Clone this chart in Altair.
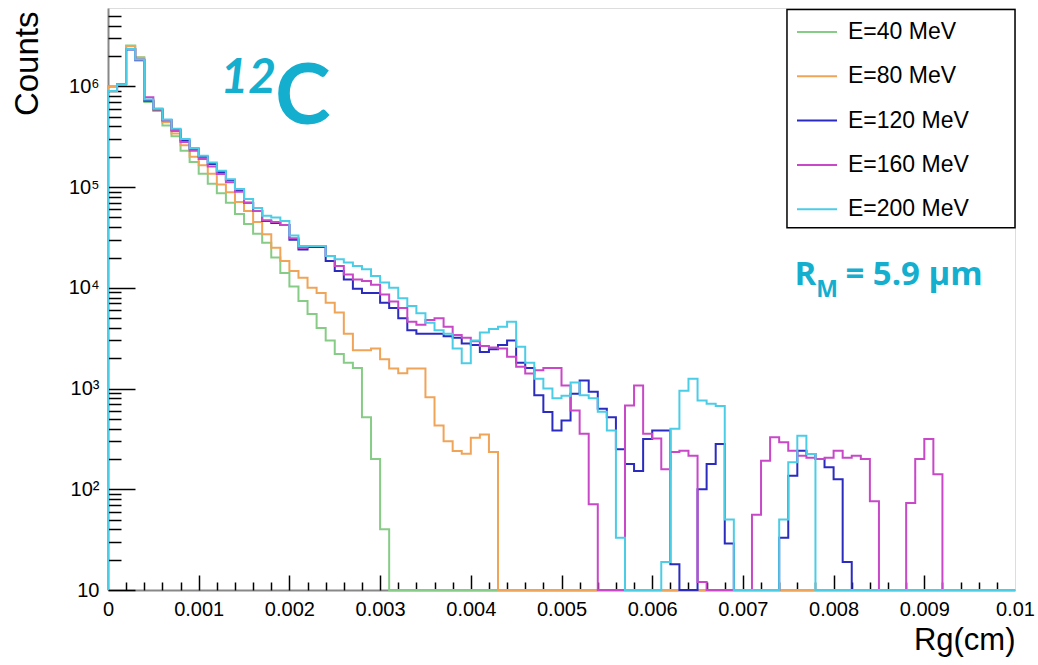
import altair as alt
import pandas as pd

# ---------------- data ----------------
BIN_WIDTH = 0.0001          # cm, 100 bins between 0 and 0.01
N_BINS = 100
Y_FLOOR = 10                # lowest value of the log axis (empty bins sit on it)

series_labels = ["E=40 MeV", "E=80 MeV", "E=120 MeV", "E=160 MeV", "E=200 MeV"]
series_colors = ["#86CC86", "#F0A458", "#2B2BC0", "#C848C8", "#4CCDE6"]

counts_40 = [
    1.0e6, 1.05e6, 2.55e6, 1.95e6, 7.0e5, 5.7e5, 4.1e5, 3.2e5, 2.3e5, 1.78e5,
    1.36e5, 1.08e5, 8.7e4, 7.0e4, 5.4e4, 4.3e4, 3.45e4, 2.8e4, 2.0e4, 1.4e4,
    1.03e4, 7.4e3, 5.5e3, 4.0e3, 3.0e3, 2.2e3, 1.8e3, 1.6e3, 520, 200,
    40, 0, 0, 0, 0, 0, 0, 0, 0, 0,
    0, 0, 0, 0, 0, 0, 0, 0, 0, 0,
    0, 0, 0, 0, 0, 0, 0, 0, 0, 0,
    0, 0, 0, 0, 0, 0, 0, 0, 0, 0,
    0, 0, 0, 0, 0, 0, 0, 0, 0, 0,
    0, 0, 0, 0, 0, 0, 0, 0, 0, 0,
    0, 0, 0, 0, 0, 0, 0, 0, 0, 0,
]
counts_80 = [
    1.0e6, 1.05e6, 2.5e6, 1.92e6, 7.2e5, 5.8e5, 4.4e5, 3.4e5, 2.6e5, 2.0e5,
    1.65e5, 1.36e5, 1.06e5, 8.9e4, 7.1e4, 5.8e4, 4.5e4, 3.4e4, 2.5e4, 1.85e4,
    1.47e4, 1.26e4, 1.0e4, 8.9e3, 7.1e3, 5.7e3, 3.5e3, 2.4e3, 2.4e3, 2.5e3,
    1.95e3, 1.58e3, 1.42e3, 1.58e3, 1.58e3, 820, 430, 300, 240, 225,
    325, 350, 235, 0, 0, 0, 0, 0, 0, 0,
    0, 0, 0, 0, 0, 0, 0, 0, 0, 0,
    0, 0, 0, 0, 0, 0, 0, 0, 0, 0,
    0, 0, 0, 0, 0, 0, 0, 0, 0, 0,
    0, 0, 0, 0, 0, 0, 0, 0, 0, 0,
    0, 0, 0, 0, 0, 0, 0, 0, 0, 0,
]
counts_120 = [
    9.0e5, 1.05e6, 2.33e6, 1.82e6, 7.2e5, 5.9e5, 4.6e5, 3.7e5, 2.9e5, 2.4e5,
    2.0e5, 1.7e5, 1.41e5, 1.17e5, 9.2e4, 7.0e4, 5.8e4, 4.6e4, 4.4e4, 4.2e4,
    3.0e4, 2.4e4, 2.55e4, 2.55e4, 1.85e4, 1.47e4, 1.21e4, 9.8e3, 8.9e3, 8.9e3,
    7.1e3, 6.3e3, 5.0e3, 3.8e3, 3.5e3, 3.5e3, 3.5e3, 3.3e3, 3.2e3, 2.8e3,
    2.7e3, 2.3e3, 2.45e3, 2.7e3, 3.0e3, 1.8e3, 1.6e3, 860, 585, 383,
    482, 890, 1.2e3, 930, 630, 520, 250, 178, 152, 316,
    383, 383, 18, 0, 0, 100, 178, 282, 29, 0,
    0, 0, 0, 0, 33, 136, 241, 224, 200, 165,
    126, 19, 0, 0, 0, 0, 0, 0, 0, 0,
    0, 0, 0, 0, 0, 0, 0, 0, 0, 0,
]
counts_160 = [
    9.0e5, 1.05e6, 2.35e6, 1.85e6, 7.8e5, 6.0e5, 4.6e5, 3.6e5, 2.8e5, 2.3e5,
    1.9e5, 1.6e5, 1.35e5, 1.12e5, 9.0e4, 7.0e4, 5.8e4, 4.7e4, 4.5e4, 4.2e4,
    3.1e4, 2.5e4, 2.6e4, 2.6e4, 2.07e4, 1.65e4, 1.36e4, 1.21e4, 1.17e4, 1.07e4,
    8.6e3, 7.3e3, 6.3e3, 4.6e3, 4.3e3, 4.8e3, 5.0e3, 4.1e3, 3.4e3, 3.2e3,
    2.95e3, 2.65e3, 2.55e3, 2.5e3, 2.07e3, 1.65e3, 1.41e3, 1.52e3, 1.6e3, 1.6e3,
    1.07e3, 607, 355, 71, 0, 0, 0, 680, 1.07e3, 355,
    320, 158, 234, 241, 215, 12, 0, 0, 0, 0,
    0, 56, 192, 329, 293, 241, 215, 206, 200, 206,
    241, 206, 215, 200, 76, 0, 0, 0, 73, 200,
    316, 141, 0, 0, 0, 0, 0, 0, 0, 0,
]
counts_200 = [
    9.0e5, 1.05e6, 2.35e6, 1.85e6, 7.4e5, 6.0e5, 4.7e5, 3.8e5, 3.0e5, 2.45e5,
    2.05e5, 1.75e5, 1.45e5, 1.2e5, 9.6e4, 7.6e4, 6.2e4, 5.2e4, 5.0e4, 4.6e4,
    3.3e4, 2.6e4, 2.6e4, 2.6e4, 2.07e4, 1.92e4, 1.78e4, 1.65e4, 1.53e4, 1.31e4,
    1.13e4, 1.0e4, 7.9e3, 6.6e3, 5.6e3, 4.5e3, 3.8e3, 3.5e3, 2.5e3, 1.78e3,
    3.0e3, 3.6e3, 3.9e3, 4.1e3, 4.6e3, 2.6e3, 1.8e3, 1.25e3, 1.0e3, 800,
    850, 1.15e3, 860, 800, 590, 383, 33, 0, 0, 0,
    0, 19, 400, 950, 1.25e3, 760, 708, 670, 50, 0,
    0, 0, 0, 0, 50, 186, 340, 224, 0, 0,
    0, 0, 0, 0, 0, 0, 0, 0, 0, 0,
    0, 0, 0, 0, 0, 0, 0, 0, 0, 0,
]
all_counts = [counts_40, counts_80, counts_120, counts_160, counts_200]

# axis tick values
x_label_values = [0, 0.001, 0.002, 0.003, 0.004, 0.005, 0.006, 0.007, 0.008, 0.009, 0.01]
x_major_ticks = x_label_values[1:-1]
x_minor_ticks = [round(k * 0.0002, 4) for k in range(1, 50) if k % 5 != 0]
y_label_values = [10, 100, 1000, 10000, 100000, 1000000]
y_minor_ticks = [m * 10 ** e for e in range(1, 7) for m in range(2, 10) if m * 10 ** e < 6e6]

# ---------------- table for the step histogram ----------------
rows = []
for label, counts in zip(series_labels, all_counts):
    rows.append({"series": label, "rg": 0.0, "counts": 0, "order": 0})
    for i, c in enumerate(counts):
        rows.append({"series": label, "rg": round(i * BIN_WIDTH, 6), "counts": c, "order": i + 1})
    rows.append({"series": label, "rg": round(N_BINS * BIN_WIDTH, 6), "counts": counts[-1], "order": N_BINS + 1})
df = pd.DataFrame(rows)

W, H = 907, 582
FONT = "Liberation Sans"
ANNOT = "#14AECF"

x_scale = alt.Scale(domain=[0, 0.01], nice=False, zero=False)
y_scale = alt.Scale(type="log", domain=[10, 6e6], nice=False)

base = alt.Chart(df).transform_calculate(
    plotted=f"max(datum.counts, {Y_FLOOR})"
)

sup = "['', '', '\u00b2', '\u00b3', '\u2074', '\u2075', '\u2076', '\u2077']"

# legend frame (drawn in data coordinates, top-right corner of the frame)
legend_box = alt.Chart(pd.DataFrame({"k": [0]})).mark_rect(
    fill="white", stroke="black", strokeWidth=1.5
).encode(
    x=alt.XDatum(0.007486, scale=x_scale, axis=None),
    x2=alt.X2Datum(0.01),
    y=alt.YDatum(5.8e6, scale=y_scale, axis=None),
    y2=alt.Y2Datum(3.95e4),
)

lines = base.mark_line(interpolate="step-after", strokeWidth=2).encode(
    x=alt.X("rg:Q", scale=x_scale, axis=alt.Axis(
        orient="bottom", values=x_label_values, format=".3~f", ticks=False, grid=False,
        labelFlush=False, labelOverlap=False, labelPadding=9, labelFontSize=20,
        domainWidth=2, title="Rg(cm)", titleFontSize=31, titleFontWeight="normal",
        titleX=W, titleY=59, titleAlign="right", titleBaseline="alphabetic",
        titleAnchor="end")),
    y=alt.Y("plotted:Q", scale=y_scale, axis=alt.Axis(
        orient="left", values=y_label_values, ticks=False, grid=False, labelPadding=9,
        labelFontSize=20,
        labelExpr=f"datum.value < 50 ? '10' : '10' + {sup}[round(log(datum.value) / LN10)]",
        domainWidth=2, title="Counts", titleFontSize=33, titleFontWeight="normal",
        titleAngle=270, titleX=-71, titleY=3, titleAlign="right",
        titleBaseline="alphabetic")),
    color=alt.Color("series:N", scale=alt.Scale(domain=series_labels, range=series_colors),
                    legend=alt.Legend(
                        title=None, orient="none", legendX=679, legendY=-3, padding=6,
                        symbolType="stroke", symbolSize=1600, symbolStrokeWidth=2,
                        symbolOffset=3, labelOffset=10, labelFontSize=23, labelFont=FONT,
                        labelColor="black", labelLimit=400, rowPadding=11.3)),
    order="order:Q",
)


def tick_layer(channel, values, size):
    ax = alt.Axis(values=values, labels=False, domain=False, grid=False, title=None,
                  tickSize=size, offset=-size, tickWidth=1.5, tickColor="black",
                  orient="bottom" if channel == "x" else "left")
    enc = {
        "x": alt.X("rg:Q", scale=x_scale, axis=ax if channel == "x" else None),
        "y": alt.Y("plotted:Q", scale=y_scale, axis=ax if channel == "y" else None),
    }
    return base.mark_point(opacity=0).encode(**enc)


ticks = [
    tick_layer("x", x_major_ticks, 15),
    tick_layer("x", x_minor_ticks, 8),
    tick_layer("y", y_label_values, 27),
    tick_layer("y", y_minor_ticks, 13),
]


def note(text, xv, yv, size, font="Lato", weight="bold", style="normal"):
    return alt.Chart(pd.DataFrame({"t": [text]})).mark_text(
        align="left", baseline="alphabetic", font=font, fontSize=size,
        fontWeight=weight, fontStyle=style, color=ANNOT,
    ).encode(
        x=alt.XDatum(xv, scale=x_scale, axis=None),
        y=alt.YDatum(yv, scale=y_scale, axis=None),
        text="t:N",
    )


notes = [
    note("12", 0.00124, 8.6e5, 48, style="italic"),
    note("C", 0.00184, 4.2e5, 84),
    note("R", 0.00757, 1.07e4, 33, font="Open Sans"),
    note("M", 0.00781, 8.2e3, 23, font="Open Sans"),
    note("= 5.9 \u00b5m", 0.00813, 1.07e4, 33, font="Open Sans"),
]

chart = alt.layer(lines, legend_box, *ticks, *notes).resolve_axis(
    x="independent", y="independent"
).properties(
    width=W, height=H, autosize="none",
    padding={"left": 108, "top": 8, "right": 23, "bottom": 75},
).configure_view(
    stroke="black", strokeWidth=1.5
).configure_axis(
    labelFont=FONT, titleFont=FONT, labelColor="black", titleColor="black",
    titleFontWeight="normal", domainColor="black", grid=False,
).configure(background="white")

chart.save("out.html", embed_options={"renderer": "svg", "actions": False})
